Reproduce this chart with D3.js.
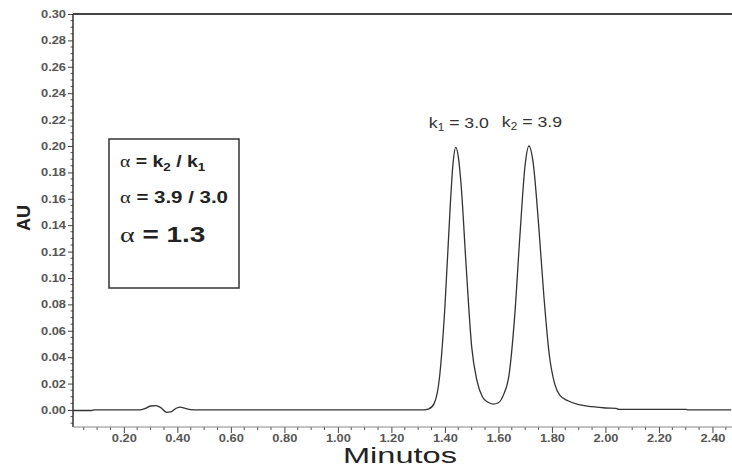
<!DOCTYPE html>
<html>
<head>
<meta charset="utf-8">
<script src="https://cdn.jsdelivr.net/npm/d3@7"></script>
<style>
  body { margin: 0; background: #fff; }
  svg text { font-family: "Liberation Sans", Arial, sans-serif; }
</style>
</head>
<body>
<div id="chart"></div>
<script>
// chromatogram trace (minutes, AU)
const traceTime = [0.01, 0.08, 0.09, 0.26, 0.28, 0.30, 0.32, 0.34, 0.36, 0.375,
  0.395, 0.41, 0.43, 0.45, 0.48, 1.32, 1.34, 1.36, 1.38, 1.40,
  1.42, 1.43, 1.441, 1.45, 1.46, 1.48, 1.50, 1.52, 1.54, 1.56,
  1.58, 1.60, 1.62, 1.64, 1.66, 1.68, 1.70, 1.714, 1.73, 1.75,
  1.77, 1.79, 1.81, 1.83, 1.86, 1.90, 1.95, 2.00, 2.04, 2.05,
  2.30, 2.31, 2.47];
const traceAU = [-0.0004, -0.0004, 0, 0, 0.0012, 0.003, 0.0033, 0.0015, -0.0018, -0.0015,
  0.0012, 0.0022, 0.0012, 0.0003, 0, 0, 0.0008, 0.005, 0.025, 0.078,
  0.155, 0.186, 0.199, 0.192, 0.172, 0.107, 0.048, 0.022, 0.010, 0.006,
  0.0045, 0.0055, 0.012, 0.027, 0.069, 0.131, 0.186, 0.200, 0.187, 0.141,
  0.086, 0.042, 0.020, 0.011, 0.007, 0.004, 0.0025, 0.0015, 0.0012, 0.0004,
  0.0004, 0, 0];

// peak annotations
const peakTimes = [1.441, 1.714];
const peakHeights = [0.199, 0.200];
const peakSub = ["1", "2"];
const peakK = ["3.0", "3.9"];

// axis ticks
const yTicks = [0, 0.02, 0.04, 0.06, 0.08, 0.10, 0.12, 0.14, 0.16, 0.18, 0.20, 0.22, 0.24, 0.26, 0.28, 0.30];
const xTicks = [0.2, 0.4, 0.6, 0.8, 1.0, 1.2, 1.4, 1.6, 1.8, 2.0, 2.2, 2.4];

const width = 732, height = 467;
const plotLeft = 73, plotRight = 732, plotTop = 14, plotBottom = 427;

let svg = d3.select("#chart").append("svg")
  .attr("width", width)
  .attr("height", height);

let x = d3.scaleLinear().domain([0.01, 2.473]).range([plotLeft, plotRight]);
let y = d3.scaleLinear().domain([-0.0129, 0.30]).range([plotBottom, plotTop]);

// minor ticks
let yMinor = d3.range(-0.01, 0.3001, 0.005).filter(v => Math.abs(Math.round(v * 50) - v * 50) > 0.01);
let xMinor = d3.range(0.05, 2.46, 0.05).filter(v => Math.abs(Math.round(v * 5) - v * 5) > 0.01);

svg.append("g").selectAll("line").data(yMinor).enter().append("line")
  .attr("x1", plotLeft - 2.5).attr("x2", plotLeft)
  .attr("y1", d => y(d)).attr("y2", d => y(d))
  .attr("stroke", "#555").attr("stroke-width", 1);

svg.append("g").selectAll("line").data(xMinor).enter().append("line")
  .attr("x1", d => x(d)).attr("x2", d => x(d))
  .attr("y1", plotBottom).attr("y2", plotBottom + 3)
  .attr("stroke", "#555").attr("stroke-width", 1);

// y axis
let yAxis = svg.append("g")
  .attr("transform", `translate(${plotLeft},0)`)
  .call(d3.axisLeft(y).tickValues(yTicks).tickFormat(d3.format(".2f")).tickSize(5).tickSizeOuter(0));
yAxis.select(".domain").remove();
yAxis.selectAll("line").attr("stroke", "#444");
yAxis.selectAll("text")
  .attr("x", -7)
  .attr("fill", "#555")
  .style("font-size", "11px")
  .style("font-weight", "bold")
  .attr("textLength", 25)
  .attr("lengthAdjust", "spacingAndGlyphs");

// x axis
let xAxis = svg.append("g")
  .attr("transform", `translate(0,${plotBottom})`)
  .call(d3.axisBottom(x).tickValues(xTicks).tickFormat(d3.format(".2f")).tickSize(6).tickSizeOuter(0));
xAxis.select(".domain").remove();
xAxis.selectAll("line").attr("stroke", "#444");
xAxis.selectAll("text")
  .attr("y", 15)
  .attr("dy", 0)
  .attr("fill", "#555")
  .style("font-size", "11px")
  .style("font-weight", "bold")
  .attr("textLength", 25)
  .attr("lengthAdjust", "spacingAndGlyphs");

// frame lines
svg.append("line").attr("x1", plotLeft).attr("x2", plotLeft).attr("y1", plotTop).attr("y2", plotBottom)
  .attr("stroke", "#333").attr("stroke-width", 1.5);
svg.append("line").attr("x1", plotLeft).attr("x2", plotRight).attr("y1", plotBottom).attr("y2", plotBottom)
  .attr("stroke", "#888").attr("stroke-width", 1);
svg.append("line").attr("x1", plotLeft).attr("x2", plotRight).attr("y1", plotTop).attr("y2", plotTop)
  .attr("stroke", "#444").attr("stroke-width", 2);

// the trace
let line = d3.line()
  .x((d, i) => x(traceTime[i]))
  .y(d => y(d))
  .curve(d3.curveMonotoneX);

svg.append("path")
  .datum(traceAU)
  .attr("d", line)
  .attr("fill", "none")
  .attr("stroke", "#333")
  .attr("stroke-width", 1.3);

// text stretched horizontally like the scanned original
function stretched(px, py, sx) {
  return svg.append("g").attr("transform", `translate(${px},${py}) scale(${sx},1)`)
    .append("text");
}

// peak labels
peakTimes.forEach((t, i) => {
  let tx = stretched(x(t) + 3, y(peakHeights[i]) - 19, 1.18)
    .attr("text-anchor", "middle")
    .attr("fill", "#333")
    .style("font-size", "15px");
  tx.append("tspan").text("k");
  tx.append("tspan").text(peakSub[i]).attr("dy", 3).style("font-size", "10px");
  tx.append("tspan").text(" = " + peakK[i]).attr("dy", -3);
});

// alpha box
svg.append("rect")
  .attr("x", 109).attr("y", 139)
  .attr("width", 130).attr("height", 149)
  .attr("fill", "none").attr("stroke", "#333").attr("stroke-width", 1.5);

function alphaLine(py, size, sx) {
  let t = stretched(120, py, sx)
    .attr("fill", "#222")
    .style("font-size", size + "px")
    .style("font-weight", "bold");
  t.append("tspan").text("α").style("font-family", "'Liberation Serif', serif").style("font-weight", "normal");
  return t;
}

let l1 = alphaLine(167, 16, 1.22);
l1.append("tspan").text(" = k");
l1.append("tspan").text("2").attr("dy", 4).style("font-size", "11px");
l1.append("tspan").text(" / k").attr("dy", -4);
l1.append("tspan").text("1").attr("dy", 4).style("font-size", "11px");

let l2 = alphaLine(203, 16, 1.28);
l2.append("tspan").text(" = " + peakK[1] + " / " + peakK[0]);

let l3 = alphaLine(242, 22, 1.27);
l3.append("tspan").text(" = 1.3");

// axis titles
svg.append("text")
  .attr("transform", "translate(30,218) rotate(-90)")
  .attr("text-anchor", "middle")
  .attr("fill", "#222")
  .style("font-size", "18px")
  .style("font-weight", "bold")
  .text("AU");

svg.append("text")
  .attr("x", 400).attr("y", 463)
  .attr("text-anchor", "middle")
  .attr("fill", "#222")
  .style("font-size", "22px")
  .attr("textLength", 114)
  .attr("lengthAdjust", "spacingAndGlyphs")
  .text("Minutos");
</script>
</body>
</html>
